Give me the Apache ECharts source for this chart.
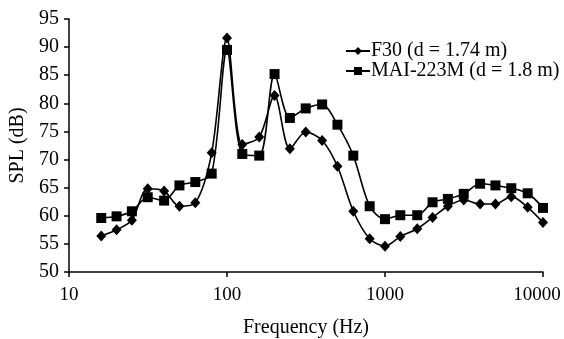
<!DOCTYPE html>
<html>
<head>
<meta charset="utf-8">
<script src="https://cdn.jsdelivr.net/npm/echarts@6/dist/echarts.min.js"></script>
<style>
html,body{margin:0;padding:0;background:#fff;}
#chart{width:564px;height:339px;}
</style>
</head>
<body>
<div id="chart"></div>
<script>
const frequencies = [16, 20, 25, 31.5, 40, 50, 63, 80, 100, 125, 160, 200, 250, 315, 400, 500, 630, 800, 1000, 1250, 1600, 2000, 2500, 3150, 4000, 5000, 6300, 8000, 10000];
const f30 = [56.4, 57.5, 59.2, 64.8, 64.4, 61.7, 62.3, 71.2, 91.6, 72.7, 74.0, 81.4, 71.9, 74.9, 73.4, 68.8, 60.8, 55.9, 54.6, 56.3, 57.7, 59.7, 61.7, 62.8, 62.1, 62.1, 63.4, 61.5, 58.8];
const mai = [59.6, 59.9, 60.8, 63.3, 62.7, 65.4, 66.0, 67.5, 89.5, 71.0, 70.7, 85.2, 77.4, 79.1, 79.8, 76.2, 70.7, 61.7, 59.4, 60.1, 60.1, 62.4, 63.0, 63.9, 65.7, 65.4, 64.9, 64.0, 61.4];
const seriesNames = ['F30 (d = 1.74 m)', 'MAI-223M (d = 1.8 m)'];
const xTicks = [10, 100, 1000, 10000];

const font = '"Liberation Serif", "Times New Roman", serif';
const chart = echarts.init(document.getElementById('chart'), null, {renderer: 'canvas'});
const pairs = arr => frequencies.map((f, i) => [f, arr[i]]);

chart.setOption({
  animation: false,
  backgroundColor: '#fff',
  grid: {left: 69, right: 21, top: 19, bottom: 67, containLabel: false, outerBoundsMode: 'none'},
  legend: {
    orient: 'vertical',
    left: 340,
    top: 36,
    itemWidth: 24,
    itemHeight: 10,
    itemGap: 0,
    textStyle: {fontFamily: font, fontSize: 20, color: '#000', padding: [0, 0, 0, -4]},
    data: seriesNames
  },
  xAxis: {
    type: 'log',
    logBase: 10,
    min: 10,
    max: 10000,
    name: 'Frequency (Hz)',
    nameLocation: 'middle',
    nameGap: 46,
    nameTextStyle: {fontFamily: font, fontSize: 20, color: '#000'},
    axisLine: {lineStyle: {color: '#000', width: 1.5}},
    axisTick: {show: true, inside: false, length: 5, lineStyle: {color: '#000', width: 1.5}},
    minorTick: {show: false},
    splitLine: {show: false},
    axisLabel: {fontFamily: font, fontSize: 19, color: '#000', margin: 14,
      formatter: v => {
        const r = Math.round(v);
        if (!xTicks.includes(r)) return '';
        return r === xTicks[xTicks.length - 1] ? '{last|' + r + '}' : String(r);
      },
      rich: {last: {fontFamily: font, fontSize: 19, color: '#000', padding: [0, 12, 0, 0]}}
    }
  },
  yAxis: {
    type: 'value',
    min: 50,
    max: 95,
    interval: 5,
    name: 'SPL (dB)',
    nameLocation: 'middle',
    nameRotate: 90,
    nameGap: 41,
    nameTextStyle: {fontFamily: font, fontSize: 20, color: '#000'},
    axisLine: {show: true, lineStyle: {color: '#000', width: 1.5}},
    axisTick: {show: true, inside: false, length: 5, lineStyle: {color: '#000', width: 1.5}},
    splitLine: {show: false},
    axisLabel: {fontFamily: font, fontSize: 20, color: '#000', margin: 10}
  },
  series: [
    {
      name: seriesNames[0],
      type: 'line',
      data: pairs(f30),
      smooth: 0.3,
      symbol: 'diamond',
      symbolSize: [10, 11],
      lineStyle: {color: '#000', width: 1.6},
      itemStyle: {color: '#000'}
    },
    {
      name: seriesNames[1],
      type: 'line',
      data: pairs(mai),
      smooth: 0.3,
      symbol: 'rect',
      symbolSize: 10,
      lineStyle: {color: '#000', width: 1.6},
      itemStyle: {color: '#000'}
    }
  ]
});
</script>
</body>
</html>
